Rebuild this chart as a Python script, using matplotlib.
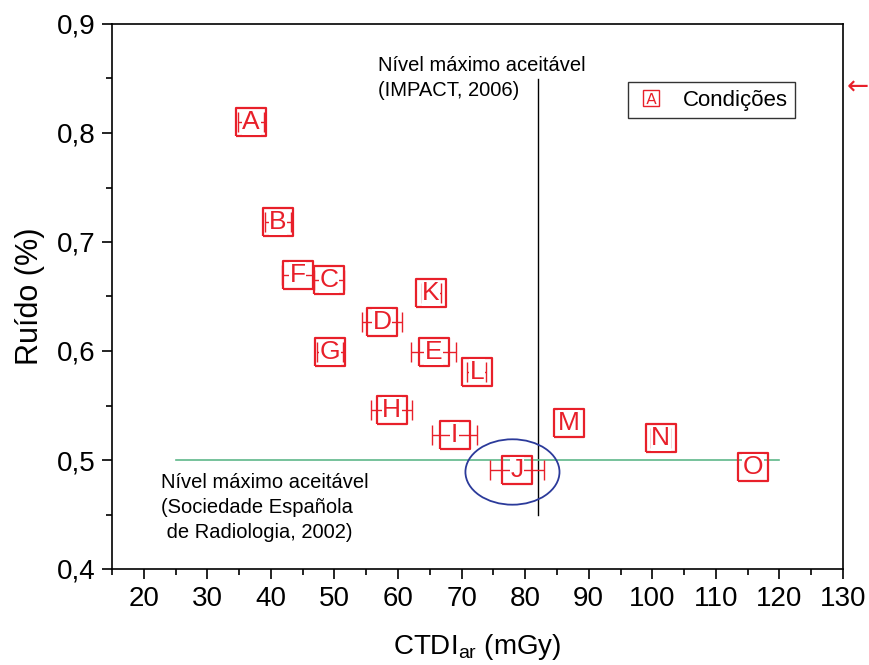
import matplotlib.pyplot as plt
from matplotlib.patches import Ellipse
from matplotlib.ticker import MultipleLocator, FuncFormatter

plt.rcParams['font.family'] = ['Liberation Sans', 'DejaVu Sans']

labels = ['A', 'B', 'C', 'D', 'E', 'F', 'G', 'H', 'I', 'J', 'K', 'L', 'M', 'N', 'O']
ctdi = [36.9, 41.1, 49.1, 57.5, 65.6, 44.2, 49.3, 59.0, 68.9, 78.7, 65.2, 72.4, 86.9, 101.3, 115.8]
ruido = [0.810, 0.718, 0.665, 0.627, 0.599, 0.670, 0.599, 0.546, 0.523, 0.491, 0.653, 0.581, 0.534, 0.520, 0.494]
erro = [2.0, 2.0, 2.4, 3.2, 3.5, 2.4, 2.0, 3.2, 3.6, 4.3, 1.5, 1.5, 0.8, 1.5, 1.5]

vermelho = '#e8202a'
# caixa um pouco mais larga que alta
caixa = [(-1.1, -1), (1.1, -1), (1.1, 1), (-1.1, 1), (-1.1, -1)]

fig = plt.figure(figsize=(8.7, 6.65), dpi=100)
ax = fig.add_axes([112 / 870, 1 - 569 / 665, 731 / 870, 545 / 665])

ax.errorbar(ctdi, ruido, xerr=erro, fmt='none', ecolor=vermelho, elinewidth=1,
            capsize=7, zorder=3)
ax.plot(ctdi, ruido, ls='none', marker=caixa, ms=22, mfc='none', mec=vermelho,
        mew=1.6, zorder=4)
for x, y, s in zip(ctdi, ruido, labels):
    ax.text(x, y, s, color=vermelho, fontsize=19, ha='center', va='center', zorder=5,
            bbox=dict(fc='white', ec='none', pad=0.3))

# limites
ax.plot([82, 82], [0.45, 0.85], color='black', lw=1)
ax.plot([25, 120], [0.5, 0.5], color='#5fb88a', lw=1.2)
ax.add_patch(Ellipse((78, 0.489), 14.8, 0.06, fill=False, ec='#2b3a9a', lw=1.3, zorder=6))

ax.text(56.8, 0.871, 'Nível máximo aceitável\n(IMPACT, 2006)', fontsize=14.5,
        ha='left', va='top', linespacing=1.4)
ax.text(22.7, 0.488, 'Nível máximo aceitável\n(Sociedade Española\n de Radiologia, 2002)',
        fontsize=14.5, ha='left', va='top', linespacing=1.4)

ax.set_xlim(15, 130)
ax.set_ylim(0.4, 0.9)
ax.xaxis.set_minor_locator(MultipleLocator(5))
ax.yaxis.set_major_locator(MultipleLocator(0.1))
ax.yaxis.set_minor_locator(MultipleLocator(0.05))
ax.yaxis.set_major_formatter(FuncFormatter(lambda v, p: f'{v:.1f}'.replace('.', ',')))
ax.set_xticks([20, 30, 40, 50, 60, 70, 80, 90, 100, 110, 120, 130])
ax.tick_params(which='major', direction='out', length=7, width=1.2, labelsize=20, pad=5)
ax.tick_params(which='minor', direction='out', length=4, width=1.2)
for sp in ax.spines.values():
    sp.set_linewidth(1.2)

ax.set_xlabel('CTDI$_{\\mathregular{ar}}$ (mGy)', fontsize=20, labelpad=15)
ax.set_ylabel('Ruído (%)', fontsize=22, labelpad=8)

# legenda
sq = ax.plot([], [], 's', ms=12, mfc='white', mec=vermelho, mew=1)[0]
letra = ax.plot([], [], marker='$\\mathrm{A}$', ls='none', color=vermelho, mew=0, ms=8)[0]
ax.legend([(sq, letra)], ['Condições'], loc='upper left', bbox_to_anchor=(0.706, 0.894),
          borderaxespad=0, frameon=True, fancybox=False, edgecolor='black', fontsize=16,
          handletextpad=0.7, borderpad=0.35, handlelength=1.4)

fig.text(0.999, 0.868, '←', color=vermelho, fontsize=19, ha='right', va='center',
         family='DejaVu Sans')

fig.savefig('out.png', dpi=100)
